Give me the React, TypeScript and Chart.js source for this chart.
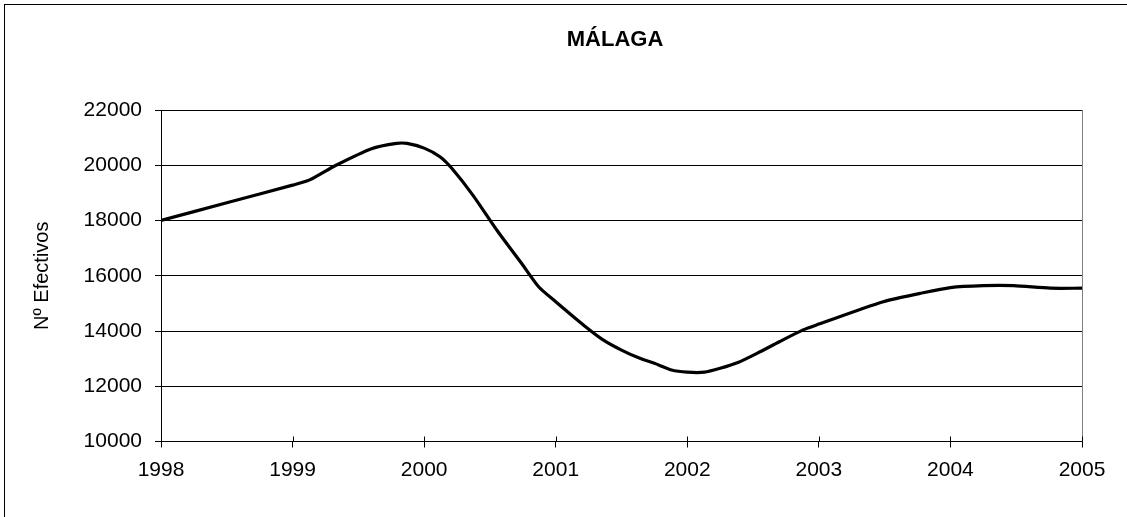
import React, { useEffect, useRef } from "react";
import { Chart, registerables } from "chart.js";

Chart.register(...registerables);

const titleText = "MÁLAGA";
const yAxisTitle = "Nº Efectivos";
const xTickYears = [1998, 1999, 2000, 2001, 2002, 2003, 2004, 2005];
const yTickValues = [10000, 12000, 14000, 16000, 18000, 20000, 22000];

const dates = [
  1998.0, 1998.5, 1999.0, 1999.13, 1999.33, 1999.6, 1999.79, 1999.87, 2000.0,
  2000.12, 2000.21, 2000.37, 2000.56, 2000.74, 2000.87, 2001.0, 2001.21,
  2001.36, 2001.5, 2001.64, 2001.75, 2001.88, 2002.0, 2002.13, 2002.25,
  2002.39, 2002.53, 2002.7, 2002.88, 2003.0, 2003.49, 2003.77, 2004.0,
  2004.25, 2004.48, 2004.76, 2005.0,
];
const efectivos = [
  18000, 18640, 19280, 19470, 20000, 20600, 20790, 20790, 20620, 20310, 19890,
  18920, 17600, 16450, 15600, 15060, 14220, 13680, 13310, 13010, 12830, 12590,
  12510, 12510, 12650, 12870, 13190, 13610, 14040, 14250, 15060, 15360, 15570,
  15640, 15640, 15550, 15550,
];

const FONT = "'Liberation Sans', Arial, sans-serif";

export default function App() {
  const ref = useRef<HTMLCanvasElement | null>(null);

  useEffect(() => {
    if (!ref.current) return;
    const decor = {
      id: "decor",
      afterDraw(chart: any) {
        const ctx = chart.ctx;
        const a = chart.chartArea;
        ctx.save();
        // outer chart border
        ctx.strokeStyle = "#000";
        ctx.lineWidth = 1;
        ctx.strokeRect(4.5, 4.5, 1200, 600);
        // plot area right border
        ctx.strokeStyle = "#808080";
        ctx.beginPath();
        ctx.moveTo(Math.round(a.right) + 0.5, a.top);
        ctx.lineTo(Math.round(a.right) + 0.5, a.bottom);
        ctx.stroke();
        // inner part of cross ticks on x axis
        ctx.strokeStyle = "#000";
        const xs = chart.scales.x;
        for (const yr of xTickYears) {
          const px = Math.round(xs.getPixelForValue(yr)) + 0.5;
          ctx.beginPath();
          ctx.moveTo(px, a.bottom);
          ctx.lineTo(px, a.bottom - 5);
          ctx.stroke();
        }
        // title
        ctx.fillStyle = "#000";
        ctx.font = `bold 22px ${FONT}`;
        ctx.textAlign = "center";
        ctx.textBaseline = "middle";
        ctx.fillText(titleText, 615, 40);
        // y axis title
        ctx.font = `20px ${FONT}`;
        ctx.translate(42, (a.top + a.bottom) / 2);
        ctx.rotate(-Math.PI / 2);
        ctx.fillText(yAxisTitle, 0, 0);
        ctx.restore();
      },
    };

    const chart = new Chart(ref.current, {
      type: "line",
      data: {
        datasets: [
          {
            data: dates.map((d, i) => ({ x: d, y: efectivos[i] })),
            borderColor: "#000",
            borderWidth: 3.2,
            pointRadius: 0,
            tension: 0.25,
            fill: false,
          },
        ],
      },
      options: {
        animation: false,
        responsive: false,
        layout: { padding: { top: 110, right: 45, left: 0, bottom: 0 } },
        plugins: {
          legend: { display: false },
          title: { display: false },
          tooltip: { enabled: false },
        },
        scales: {
          x: {
            type: "linear",
            min: 1998,
            max: 2005,
            afterFit(scale: any) {
              scale.height = 75.5;
            },
            afterBuildTicks(scale: any) {
              scale.ticks = xTickYears.map((v) => ({ value: v }));
            },
            ticks: {
              color: "#000",
              font: { family: FONT, size: 21 },
              padding: 10,
              maxRotation: 0,
              autoSkip: false,
              callback: (v: any) => String(v),
            },
            grid: {
              drawOnChartArea: false,
              drawTicks: true,
              tickLength: 6,
              color: "#000",
            },
            border: { display: true, color: "#000", width: 1 },
          },
          y: {
            min: 10000,
            max: 22000,
            afterFit(scale: any) {
              scale.width = 161;
            },
            afterBuildTicks(scale: any) {
              scale.ticks = yTickValues.map((v) => ({ value: v }));
            },
            ticks: {
              color: "#000",
              font: { family: FONT, size: 21 },
              padding: 13,
              callback: (v: any) => String(v),
            },
            grid: {
              color: "#000",
              lineWidth: 1,
              tickLength: 6,
            },
            border: { display: true, color: "#000", width: 1 },
          },
        },
      },
      plugins: [decor],
    });
    return () => chart.destroy();
  }, []);

  return (
    <div
      style={{
        position: "fixed",
        left: 0,
        top: 0,
        width: 1127,
        height: 517,
        background: "#fff",
      }}
    >
      <canvas ref={ref} width={1127} height={517} style={{ width: 1127, height: 517, display: "block" }} />
    </div>
  );
}
